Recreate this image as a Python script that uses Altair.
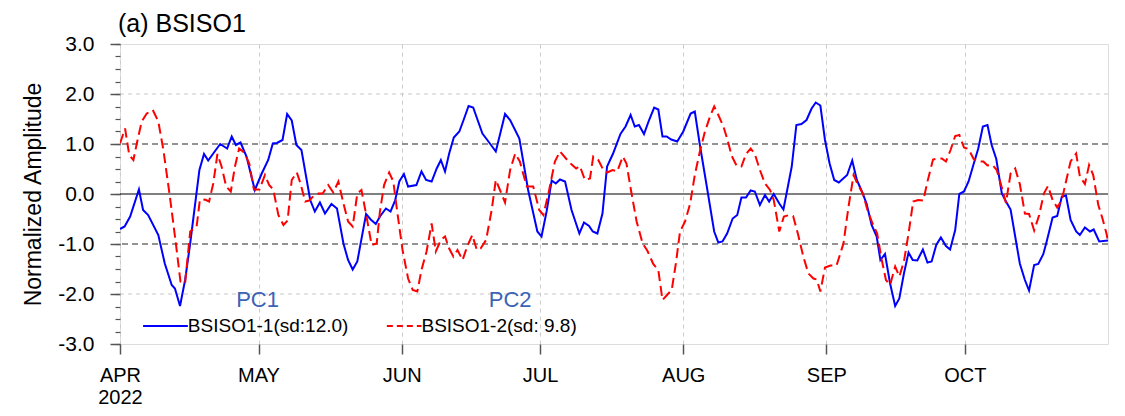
import altair as alt
import pandas as pd
from datetime import date

# ---------------- data ----------------
BASE = date(2022, 4, 1)
END = date(2022, 11, 1)
MONTH_LABELS = ["APR", "MAY", "JUN", "JUL", "AUG", "SEP", "OCT"]
YEAR_LABEL = "2022"
MONTH_STARTS = [(date(2022, m, 1) - BASE).days for m in range(4, 11)]
X_MAX = (END - BASE).days

Y_MAJOR_TICKS = [-3, -2, -1, 0, 1, 2, 3]
Y_MINOR_TICKS = [-3 + 0.25 * i for i in range(25)]

TITLE = "(a) BSISO1"
Y_TITLE = "Normalized Amplitude"

# BSISO1-1 (PC1), days since 1 Apr 2022
PC1_DAYS = [0.0, 1.0, 2.2, 4.1, 5.0, 6.1, 8.3, 9.7, 11.2, 11.9, 13.0, 14.1, 15.2, 17.2, 18.2, 19.1, 20.2,
            21.7, 23.2, 24.2, 25.1, 26.1, 27.4, 29.2, 30.7, 32.1, 33.1, 34.0, 35.2, 36.2, 37.2, 38.2,
            39.3, 41.2, 42.2, 43.3, 44.4, 45.8, 47.0, 48.4, 49.4, 50.4, 51.4, 53.3, 54.3, 55.4, 56.3,
            57.6, 58.6, 59.6, 60.5, 61.5, 62.4, 64.2, 65.3, 66.3, 67.5, 68.6, 69.5, 70.4, 71.3, 72.3,
            73.5, 74.5, 75.5, 76.5, 78.5, 79.8, 81.4, 83.4, 84.5, 86.5, 88.4, 90.4, 91.3, 92.4, 93.5,
            94.4, 95.3, 96.4, 97.8, 99.5, 100.5, 101.6, 102.4, 103.4, 104.5, 105.5, 106.8, 108.4,
            109.5, 110.6, 111.5, 112.4, 113.5, 114.6, 115.7, 116.6, 117.5, 118.4, 119.4, 120.7,
            122.0, 123.6, 124.5, 125.6, 127.1, 128.7, 129.6, 130.5, 131.5, 132.7, 133.7, 134.6,
            135.6, 136.6, 137.5, 138.6, 139.7, 140.6, 141.6, 142.8, 143.7, 145.5, 146.5, 147.6,
            148.7, 149.8, 150.7, 151.7, 152.7, 153.7, 154.7, 155.7, 157.5, 158.6, 159.6, 160.6,
            161.7, 162.8, 163.9, 164.7, 165.7, 166.8, 167.9, 168.8, 169.8, 170.8, 171.7, 172.7,
            173.9, 174.9, 175.8, 176.8, 177.8, 178.9, 179.8, 180.9, 181.8, 182.8, 183.8, 184.9,
            185.9, 186.9, 187.9, 188.8, 189.8, 191.0, 191.9, 192.9, 193.9, 194.9, 196.0, 196.9,
            198.0, 198.9, 200.0, 200.8, 202.0, 203.0, 204.0, 204.9, 205.9, 207.1, 207.9, 209.0,
            210.1, 210.9, 212.1, 214.0]
PC1_VALUES = [-0.70, -0.65, -0.45, 0.09, -0.32, -0.42, -0.82, -1.39, -1.82, -1.89, -2.24, -1.72, -0.99,
              0.48, 0.80, 0.67, 0.81, 1.00, 0.91, 1.15, 0.98, 1.03, 0.75, 0.08, 0.41, 0.68, 1.01, 1.02,
              1.08, 1.60, 1.47, 0.98, 0.88, -0.12, -0.35, -0.17, -0.39, -0.20, -0.29, -0.99, -1.32,
              -1.51, -1.35, -0.40, -0.51, -0.60, -0.45, -0.29, -0.35, -0.13, 0.25, 0.40, 0.15, 0.18,
              0.45, 0.28, 0.25, 0.51, 0.68, 0.45, 0.81, 1.13, 1.25, 1.50, 1.76, 1.73, 1.21, 1.05, 0.85,
              1.60, 1.48, 1.11, 0.08, -0.75, -0.85, -0.35, 0.27, 0.21, 0.29, 0.25, -0.32, -0.79, -0.57,
              -0.64, -0.75, -0.79, -0.39, 0.55, 0.81, 1.20, 1.35, 1.58, 1.35, 1.38, 1.20, 1.48, 1.73,
              1.69, 1.15, 1.15, 1.09, 1.05, 1.25, 1.61, 1.65, 0.98, 0.15, -0.75, -0.97, -0.95, -0.79,
              -0.49, -0.42, -0.07, -0.07, 0.07, 0.05, -0.22, -0.02, -0.15, 0.00, -0.19, -0.31, 0.55,
              1.38, 1.40, 1.48, 1.71, 1.83, 1.77, 1.08, 0.61, 0.28, 0.23, 0.38, 0.67, 0.28, 0.07, -0.19,
              -0.62, -0.85, -1.32, -1.20, -1.79, -2.24, -2.09, -1.59, -1.17, -1.32, -1.33, -1.11, -1.37,
              -1.35, -1.02, -0.87, -1.04, -1.11, -0.72, 0.00, 0.05, 0.25, 0.60, 0.91, 1.35, 1.38, 0.98,
              0.70, 0.01, -0.15, -0.31, -0.85, -1.39, -1.72, -1.93, -1.42, -1.40, -1.20, -0.92, -0.47,
              -0.44, -0.05, -0.03, -0.52, -0.75, -0.82, -0.67, -0.75, -0.71, -0.95, -0.93]

# BSISO1-2 (PC2)
PC2_DAYS = [0.0, 1.1, 2.0, 2.9, 3.8, 4.7, 5.8, 7.1, 8.3, 9.4, 10.8, 12.1, 13.1, 14.1, 15.2, 16.6, 17.3,
            18.4, 19.3, 20.2, 21.1, 22.0, 23.0, 24.0, 24.9, 25.8, 26.9, 28.0, 29.0, 30.2, 31.4, 32.3,
            33.2, 34.3, 35.4, 36.3, 37.2, 38.3, 39.1, 40.1, 41.0, 41.9, 43.0, 43.9, 45.1, 46.2, 47.3,
            48.4, 49.4, 50.4, 51.4, 52.3, 53.4, 54.5, 55.6, 56.3, 57.2, 58.3, 59.2, 60.1, 61.2, 62.4,
            63.4, 64.4, 65.3, 66.4, 67.5, 68.4, 69.5, 70.4, 71.3, 72.2, 73.1, 74.2, 75.2, 76.3, 77.3,
            78.1, 79.3, 80.5, 81.4, 82.3, 83.4, 84.5, 85.6, 86.6, 88.1, 89.5, 90.8, 91.7, 92.8, 94.2,
            95.3, 96.6, 97.6, 98.8, 99.6, 100.7, 101.8, 102.5, 103.6, 104.7, 105.5, 106.7, 107.7,
            108.9, 109.7, 110.8, 111.9, 113.2, 114.2, 115.5, 116.6, 117.5, 118.5, 119.5, 120.4,
            121.3, 122.4, 123.5, 124.5, 125.6, 126.7, 127.8, 128.7, 129.6, 130.7, 131.5, 132.5,
            133.6, 134.6, 135.6, 136.6, 137.5, 138.6, 139.7, 140.8, 141.6, 142.8, 143.8, 145.0,
            145.8, 146.9, 148.0, 149.1, 150.2, 150.9, 151.7, 152.7, 153.9, 155.2, 156.7, 157.8,
            158.9, 159.7, 160.9, 161.9, 163.0, 164.0, 165.0, 165.9, 166.8, 167.9, 168.8, 169.8,
            170.8, 171.8, 172.9, 174.0, 174.9, 176.1, 177.1, 178.0, 178.9, 179.9, 180.9, 181.8,
            182.8, 183.8, 184.9, 185.9, 187.0, 187.9, 189.0, 189.9, 191.0, 191.9, 192.9, 193.9,
            194.9, 196.0, 196.9, 198.0, 199.1, 200.1, 201.0, 202.0, 203.0, 204.0, 204.9, 205.9,
            207.1, 207.9, 209.0, 209.9, 210.8, 211.9, 212.8, 213.7, 214.0]
PC2_VALUES = [1.01, 1.31, 0.78, 0.68, 1.08, 1.45, 1.61, 1.68, 1.45, 0.88, -0.05, -0.99, -1.75, -1.79,
              -0.75, -0.65, -0.12, -0.11, -0.15, 0.21, 0.80, 0.55, 0.15, 0.05, 0.55, 0.91, 0.83, 0.61,
              0.09, 0.09, 0.38, 0.18, 0.09, -0.42, -0.62, -0.53, 0.28, 0.43, 0.21, -0.15, -0.13, -0.04,
              0.01, 0.01, 0.18, 0.03, 0.25, -0.19, -0.55, -0.65, 0.01, 0.08, -0.45, -1.02, -0.99, -0.35,
              0.18, 0.43, 0.25, -0.39, -1.12, -1.69, -1.92, -1.95, -1.52, -1.15, -0.59, -1.15, -0.92,
              -0.85, -1.09, -1.25, -1.12, -1.32, -1.05, -0.82, -1.12, -1.09, -0.92, -0.32, 0.28, 0.08,
              -0.17, 0.48, 0.81, 0.65, 0.15, 0.15, -0.32, -0.42, 0.01, 0.65, 0.85, 0.71, 0.61, 0.51,
              0.56, 0.28, 0.31, 0.75, 0.68, 0.48, 0.43, 0.48, 0.45, 0.75, 0.61, 0.01, -0.55, -0.99,
              -1.13, -1.40, -1.52, -2.12, -2.02, -1.92, -1.39, -0.75, -0.55, -0.19, 0.38, 0.85, 1.25,
              1.55, 1.75, 1.58, 1.35, 1.11, 0.76, 0.56, 0.55, 0.80, 0.91, 0.80, 0.48, 0.21, 0.08, -0.12,
              -0.75, -0.45, -0.42, -0.44, -0.82, -1.25, -1.59, -1.69, -1.71, -1.95, -1.47, -1.43, -1.43,
              -0.99, -0.25, 0.38, 0.21, 0.01, -0.32, -0.59, -0.79, -1.32, -1.72, -1.82, -1.45, -1.65,
              -1.35, -0.79, -0.15, -0.12, -0.13, 0.25, 0.69, 0.71, 0.71, 0.65, 0.88, 1.16, 1.18, 0.93,
              0.90, 0.70, 0.65, 0.65, 0.57, 0.58, 0.48, 0.13, -0.18, 0.41, 0.51, 0.20, -0.39, -0.40,
              -0.73, -0.42, 0.01, 0.16, -0.12, -0.27, -0.12, 0.25, 0.65, 0.81, 0.35, 0.20, 0.58, 0.38,
              -0.22, -0.49, -0.80, -0.95]

REF_LIGHT = [2.0, -2.0]
REF_DASHED = [1.0, -1.0]
REF_ZERO = [0.0]

# annotations (data coordinates)
PC_TEXTS = ["PC1", "PC2"]
PC_TEXT_DAYS = [29.8, 84.5]
PC_TEXT_Y = -2.25
LEGEND_Y = -2.64
LEGEND_TEXT_Y = -2.755
LEGEND1 = {"x": 5.0, "x2": 14.7, "label": "BSISO1-1(sd:12.0)"}
LEGEND2 = {"x": 57.8, "x2": 65.3, "label": "BSISO1-2(sd: 9.8)"}

FONT = "Liberation Sans"
BLUE = "#0000ff"
RED = "#ff0000"
PC_COLOR = "#3d63b6"
AXIS_GRAY = "#555555"

# ---------------- frames ----------------
df1 = pd.DataFrame({"day": PC1_DAYS, "value": PC1_VALUES})
df2 = pd.DataFrame({"day": PC2_DAYS, "value": PC2_VALUES})
ref_light = pd.DataFrame({"value": REF_LIGHT})
ref_dashed = pd.DataFrame({"value": REF_DASHED})
ref_zero = pd.DataFrame({"value": REF_ZERO})
pc_df = pd.DataFrame({"day": PC_TEXT_DAYS, "value": [PC_TEXT_Y] * 2, "label": PC_TEXTS})
leg1 = pd.DataFrame({"day": [LEGEND1["x"]], "day2": [LEGEND1["x2"]], "value": [LEGEND_Y],
                     "ty": [LEGEND_TEXT_Y], "label": [LEGEND1["label"]]})
leg2 = pd.DataFrame({"day": [LEGEND2["x"]], "day2": [LEGEND2["x2"]], "value": [LEGEND_Y],
                     "ty": [LEGEND_TEXT_Y], "label": [LEGEND2["label"]]})
title_df = pd.DataFrame({"label": [TITLE]})

# ---------------- scales / axes ----------------
x_scale = alt.Scale(domain=[0, X_MAX], nice=False, zero=False)
y_scale = alt.Scale(domain=[-3, 3], nice=False, zero=False)

parts = []
for i, (d, lab) in enumerate(zip(MONTH_STARTS, MONTH_LABELS)):
    if i == 0:
        parts.append(f"datum.value == {d} ? ['{lab}', '{YEAR_LABEL}']")
    else:
        parts.append(f"datum.value == {d} ? '{lab}'")
x_label_expr = " : ".join(parts) + " : ''"

X_AXIS = alt.Axis(values=MONTH_STARTS, labelExpr=x_label_expr, title=None,
                  grid=True, gridColor="#cccccc", gridDash=[4, 4], gridWidth=1,
                  domain=False, ticks=True, tickSize=10, tickColor=AXIS_GRAY, tickWidth=1.5,
                  labelFontSize=20, labelFont=FONT, labelColor="black", labelPadding=11,
                  labelLineHeight=22, labelAngle=0, labelAlign="center", labelBaseline="top",
                  labelFlush=False, labelOverlap=False)

Y_MAJOR = alt.Axis(values=Y_MAJOR_TICKS, orient="left",
                   labelExpr="(datum.value < 0 ? '-' : '') + format(abs(datum.value), '.1f')",
                   title=Y_TITLE, titleFontSize=23, titleFont=FONT,
                   titleFontWeight="normal", titleColor="black", titleAngle=270,
                   titleX=-80, titleY=150, titleBaseline="alphabetic", titleAlign="center",
                   grid=False, domain=False, tickSize=10, tickColor=AXIS_GRAY, tickWidth=1.5,
                   labelFontSize=21, labelFont=FONT, labelColor="black", labelPadding=16)

Y_MINOR = alt.Axis(values=Y_MINOR_TICKS, orient="left", labels=False, title=None, grid=False,
                   domain=False, tickSize=5, tickColor=AXIS_GRAY, tickWidth=1.2)


def X(field="day"):
    return alt.X(f"{field}:Q", scale=x_scale, axis=X_AXIS)


def Y(field="value", axis=None):
    return alt.Y(f"{field}:Q", scale=y_scale, axis=axis)


grid_light = alt.Chart(ref_light).mark_rule(color="#c8c8c8", strokeDash=[4, 4], strokeWidth=1).encode(
    y=Y())
grid_dashed = alt.Chart(ref_dashed).mark_rule(color="#707070", strokeDash=[6, 4], strokeWidth=1.5).encode(
    y=Y())
grid_zero = alt.Chart(ref_zero).mark_rule(color="black", strokeWidth=1.2).encode(y=Y())

line1 = alt.Chart(df1).mark_line(color=BLUE, strokeWidth=2, clip=True).encode(
    x=X(), y=Y(axis=Y_MAJOR))
line2 = alt.Chart(df2).mark_line(color=RED, strokeWidth=2, strokeDash=[10, 5], clip=True).encode(
    x=X(), y=Y(axis=Y_MINOR))

pc_text = alt.Chart(pc_df).mark_text(font=FONT, fontSize=22, color=PC_COLOR, align="center",
                                     baseline="alphabetic").encode(x=X(), y=Y(), text="label:N")

leg_line1 = alt.Chart(leg1).mark_rule(color=BLUE, strokeWidth=2).encode(
    x=X(), x2="day2:Q", y=Y())
leg_line2 = alt.Chart(leg2).mark_rule(color=RED, strokeWidth=2, strokeDash=[6, 4]).encode(
    x=X(), x2="day2:Q", y=Y())
leg_text1 = alt.Chart(leg1).mark_text(font=FONT, fontSize=19, color="black", align="left",
                                      baseline="alphabetic").encode(x=X("day2"), y=Y("ty"), text="label:N")
leg_text2 = alt.Chart(leg2).mark_text(font=FONT, fontSize=19, color="black", align="left",
                                      baseline="alphabetic").encode(x=X("day2"), y=Y("ty"), text="label:N")

title_mark = alt.Chart(title_df).mark_text(font=FONT, fontSize=25, color="black", align="left",
                                           baseline="alphabetic").encode(
    x=alt.value(-2), y=alt.value(-12), text="label:N")

chart = alt.layer(
    grid_light, grid_dashed, grid_zero, line1, line2, pc_text,
    leg_line1, leg_line2, leg_text1, leg_text2, title_mark
).resolve_axis(y="independent").properties(
    width=988, height=300,
    autosize=alt.AutoSizeParams(type="none"),
    padding={"left": 112, "top": 36, "right": 9, "bottom": 64},
).configure_view(stroke=AXIS_GRAY, strokeWidth=1.5).configure(font=FONT)

chart.save("out.html", embed_options={"renderer": "svg", "actions": False})
